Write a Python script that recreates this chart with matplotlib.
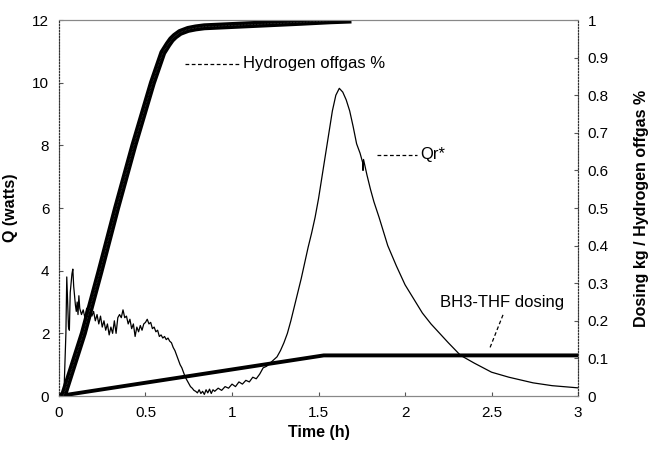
import matplotlib
matplotlib.use("Agg")
import matplotlib.pyplot as plt

plt.rcParams["font.family"] = ["Liberation Sans", "DejaVu Sans"]

# ---------------- data ----------------
# Qr* heat flow, watts (left axis)
qr_t = [0, 0.02, 0.03, 0.04, 0.045, 0.05, 0.055, 0.06, 0.065, 0.07, 0.075, 0.08,
        0.085, 0.09, 0.095, 0.10, 0.105, 0.11, 0.115, 0.12,
        0.13, 0.14, 0.15, 0.16, 0.17, 0.18, 0.19, 0.20, 0.21, 0.22, 0.23, 0.24,
        0.25, 0.26, 0.27, 0.28, 0.29, 0.30, 0.31, 0.32, 0.33, 0.34, 0.35, 0.36,
        0.37, 0.38, 0.39, 0.40, 0.41, 0.42, 0.43, 0.44, 0.45, 0.46, 0.47, 0.48,
        0.49, 0.50, 0.51, 0.52, 0.53, 0.54, 0.55, 0.56, 0.57, 0.58, 0.59, 0.60,
        0.61, 0.62, 0.63, 0.64, 0.65, 0.66, 0.67, 0.68, 0.69, 0.70, 0.71, 0.72,
        0.73, 0.74, 0.75, 0.76, 0.77, 0.78, 0.79, 0.80, 0.81, 0.82, 0.83, 0.84,
        0.85, 0.86, 0.87, 0.88, 0.89, 0.90, 0.92, 0.94, 0.96, 0.98, 1.00, 1.02,
        1.04, 1.06, 1.08, 1.10, 1.12, 1.14, 1.16, 1.18, 1.20, 1.22, 1.24, 1.26,
        1.28, 1.30, 1.32, 1.34, 1.36, 1.38, 1.40, 1.42, 1.44, 1.46, 1.48, 1.50,
        1.52, 1.54, 1.56, 1.58, 1.60, 1.62, 1.64, 1.66, 1.68, 1.70, 1.72, 1.74,
        1.755, 1.757, 1.760, 1.78, 1.80, 1.82, 1.85, 1.90, 1.95, 2.0, 2.05, 2.1,
        2.15, 2.2, 2.25, 2.32, 2.4, 2.5, 2.6, 2.74, 2.85, 3.0]
qr_q = [0, 0.05, 0.3, 2.0, 3.8, 3.0, 2.2, 2.1, 3.3, 3.6, 3.9, 4.05,
        3.5, 3.2, 2.9, 2.7, 3.0, 2.6, 3.2, 2.8,
        2.6, 2.75, 2.5, 2.8, 2.6, 2.85, 2.55, 2.7, 2.4, 2.6, 2.3, 2.55,
        2.2, 2.4, 2.1, 2.3, 1.95, 2.2, 2.0, 2.4, 2.0, 2.5, 2.6, 2.5,
        2.75, 2.5, 2.55, 2.3, 2.45, 2.15, 2.3, 1.9, 2.2, 2.05, 2.25, 2.1,
        2.3, 2.35, 2.45, 2.3, 2.35, 2.15, 2.2, 2.05, 2.1, 1.9, 1.95, 1.85,
        1.9, 1.8, 1.85, 1.75, 1.7, 1.55, 1.45, 1.3, 1.15, 1.0, 0.9, 0.75,
        0.6, 0.5, 0.4, 0.3, 0.25, 0.18, 0.15, 0.1, 0.2, 0.08, 0.15, 0.05,
        0.2, 0.1, 0.22, 0.08, 0.2, 0.15, 0.25, 0.18, 0.3, 0.25, 0.38, 0.3,
        0.45, 0.38, 0.5, 0.45, 0.6, 0.55, 0.7, 0.9, 0.95, 1.05, 1.15, 1.25,
        1.45, 1.7, 2.0, 2.4, 2.85, 3.3, 3.75, 4.25, 4.75, 5.2, 5.7, 6.3,
        7.0, 7.7, 8.4, 9.1, 9.6, 9.82, 9.7, 9.45, 9.1, 8.6, 8.05, 7.75,
        7.45, 7.2, 7.55, 7.05, 6.6, 6.2, 5.7, 4.8, 4.15, 3.55, 3.1, 2.65,
        2.3, 2.0, 1.7, 1.3, 1.05, 0.76, 0.6, 0.42, 0.33, 0.26]

# Hydrogen offgas fraction (right axis)
h2_t = [0.0, 0.025, 0.141, 0.237, 0.333, 0.433, 0.54, 0.60, 0.63, 0.65, 0.67,
        0.70, 0.746, 0.79, 0.84, 1.12, 1.4, 1.57, 1.69]
h2_v = [0.0, 0.0, 0.167, 0.331, 0.5, 0.667, 0.833, 0.913, 0.935, 0.948, 0.957,
        0.967, 0.975, 0.979, 0.982, 0.988, 0.994, 0.998, 1.0]

# BH3-THF dosing, kg (right axis)
dose_t = [0.0, 1.53, 3.0]
dose_v = [0.0, 0.108, 0.108]

# ---------------- figure ----------------
fig = plt.figure(figsize=(6.51, 4.53), dpi=100)
ax = fig.add_axes([0.0906, 0.1258, 0.7974, 0.83])
ax2 = ax.twinx()

ax.plot(qr_t, qr_q, color="black", lw=0.9, zorder=3)
ax2.plot(dose_t, dose_v, color="black", lw=2.8, solid_capstyle="butt")
ax2.plot(h2_t, h2_v, color="black", lw=5, solid_capstyle="butt")
ax2.plot(h2_t, h2_v, color="white", lw=0.4, ls=(0, (0.6, 2.0)), alpha=0.6)

ax.set_xlim(0, 3)
ax.set_ylim(0, 12)
ax2.set_ylim(0, 1)
ax.set_xticks([0, 0.5, 1, 1.5, 2, 2.5, 3])
ax.set_xticklabels(["0", "0.5", "1", "1.5", "2", "2.5", "3"])
ax.set_yticks(range(0, 13, 2))
ax2.set_yticks([i / 10 for i in range(11)])
ax2.set_yticklabels(["0", "0.1", "0.2", "0.3", "0.4", "0.5", "0.6", "0.7",
                     "0.8", "0.9", "1"])

for a in (ax, ax2):
    a.tick_params(direction="in", length=3, width=0.8, labelsize=11,
                  color="#555555", pad=7)
    a.spines["top"].set_color("#888888")
    a.spines["bottom"].set_color("#888888")
    a.spines["left"].set_color("#333333")
    a.spines["right"].set_color("#333333")
    a.spines["left"].set_linestyle(":")
    a.spines["right"].set_linestyle(":")
    a.set_facecolor("none")

ax.set_xlabel("Time (h)", fontsize=11.5, weight="bold", labelpad=4)
ax.set_ylabel("Q (watts)", fontsize=11.5, weight="bold", labelpad=10)
ax2.set_ylabel("Dosing kg / Hydrogen offgas %", fontsize=11.5, weight="bold",
               labelpad=18)

# annotations with dashed leaders
ax.plot([0.73, 1.05], [10.6, 10.6], color="black", lw=0.9, ls=(0, (3, 2)))
ax.text(1.065, 10.6, "Hydrogen offgas %", fontsize=12, va="center")
ax.plot([1.84, 2.07], [7.7, 7.7], color="black", lw=0.9, ls=(0, (3, 2)))
ax.text(2.09, 7.7, "Qr*", fontsize=12, va="center")
ax.plot([2.566, 2.49], [2.59, 1.53], color="black", lw=0.9, ls=(0, (3, 2)))
ax.text(2.2, 2.97, "BH3-THF dosing", fontsize=12, va="center")

fig.savefig("out.png", dpi=100)
